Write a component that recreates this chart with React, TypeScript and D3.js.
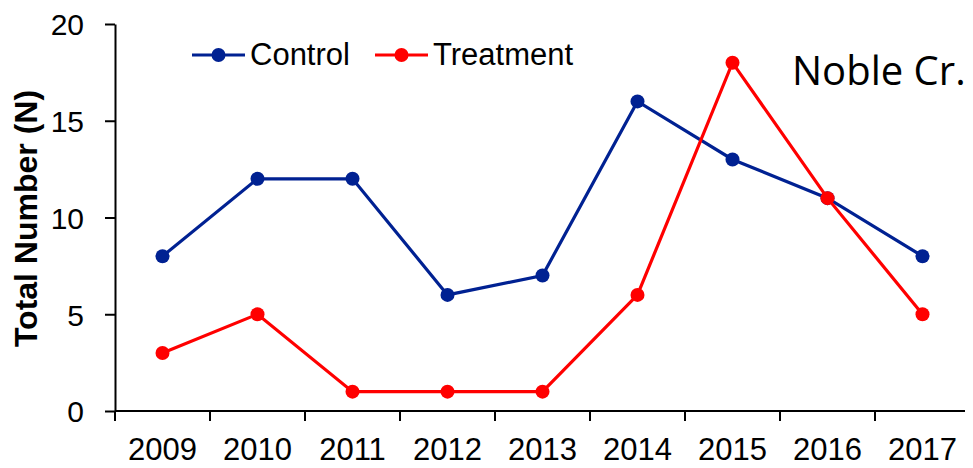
import React, { useRef, useEffect } from 'react';
import * as d3 from 'd3';

const years = ['2009', '2010', '2011', '2012', '2013', '2014', '2015', '2016', '2017'];
const controlValues = [8, 12, 12, 6, 7, 16, 13, 11, 8];
const treatmentValues = [3, 5, 1, 1, 1, 6, 18, 11, 5];
const yTicks = [0, 5, 10, 15, 20];
const seriesNames = ['Control', 'Treatment'];
const siteLabel = 'Noble Cr.';
const yTitle = 'Total Number (N)';

const Chart = () => {
  const svgRef = useRef<SVGSVGElement>(null);

  useEffect(() => {
    const width = 973;
    const height = 468;
    const left = 115, right = 970, top = 24, bottom = 411;
    const font = '"Liberation Sans", Arial, sans-serif';

    const svg = d3.select(svgRef.current)
      .attr('width', width)
      .attr('height', height);
    svg.selectAll('*').remove();

    const x = d3.scaleBand().domain(years).range([left, right]);
    const y = d3.scaleLinear().domain([0, 20]).range([bottom, top]);
    const cx = (d: string) => (x(d) as number) + x.bandwidth() / 2;

    // y axis
    const yAxis = svg.append('g')
      .attr('transform', `translate(${left},0)`)
      .call(d3.axisLeft(y).tickValues(yTicks).tickSize(10).tickPadding(21).tickSizeOuter(0));
    yAxis.select('.domain').attr('stroke', '#000').attr('stroke-width', 2);
    yAxis.selectAll('.tick line').attr('stroke', '#000').attr('stroke-width', 2);
    yAxis.selectAll('.tick text')
      .attr('font-family', font).attr('font-size', 30).attr('fill', '#000').attr('dy', '0.36em');

    // x axis with ticks between categories
    const xAxisG = svg.append('g').attr('transform', `translate(0,${bottom})`);
    xAxisG.append('line')
      .attr('x1', left).attr('x2', right)
      .attr('stroke', '#000').attr('stroke-width', 2);
    const bounds = years.map((d) => x(d) as number).concat([right]);
    xAxisG.selectAll('line.tk')
      .data(bounds)
      .enter().append('line')
      .attr('class', 'tk')
      .attr('x1', (d) => d).attr('x2', (d) => d)
      .attr('y1', 0).attr('y2', 10)
      .attr('stroke', '#000').attr('stroke-width', 2);
    xAxisG.selectAll('text')
      .data(years)
      .enter().append('text')
      .attr('x', cx)
      .attr('y', 49)
      .attr('text-anchor', 'middle')
      .attr('font-family', font).attr('font-size', 31)
      .text((d) => d);

    // y title
    svg.append('text')
      .attr('transform', `translate(37,${(top + bottom) / 2 + 1}) rotate(-90)`)
      .attr('text-anchor', 'middle')
      .attr('font-family', font).attr('font-size', 32).attr('font-weight', 'bold')
      .text(yTitle);

    const series = [
      { name: seriesNames[0], values: controlValues, color: '#002192' },
      { name: seriesNames[1], values: treatmentValues, color: '#ff0000' },
    ];

    const line = d3.line<number>()
      .x((d, i) => cx(years[i]))
      .y((d) => y(d));

    series.forEach((s) => {
      svg.append('path')
        .datum(s.values)
        .attr('fill', 'none')
        .attr('stroke', s.color)
        .attr('stroke-width', 3.2)
        .attr('d', line);
      svg.append('g').selectAll('circle')
        .data(s.values)
        .enter().append('circle')
        .attr('cx', (d, i) => cx(years[i]))
        .attr('cy', (d) => y(d))
        .attr('r', 7)
        .attr('fill', s.color);
    });

    // legend
    const legendX = [192, 375];
    series.forEach((s, i) => {
      const g = svg.append('g').attr('transform', `translate(${legendX[i]},55)`);
      g.append('line')
        .attr('x1', 0).attr('x2', 53)
        .attr('stroke', s.color).attr('stroke-width', 3.2);
      g.append('circle').attr('cx', 26.5).attr('r', 7).attr('fill', s.color);
      g.append('text')
        .attr('x', 58).attr('y', 10)
        .attr('font-family', font).attr('font-size', 31)
        .text(s.name);
    });

    // site label
    svg.append('text')
      .attr('x', 792).attr('y', 85)
      .attr('font-family', '"Open Sans", "Noto Sans", sans-serif')
      .attr('font-size', 40)
      .text(siteLabel);

    return () => {
      d3.select(svgRef.current).selectAll('*').remove();
    };
  }, []);

  return <svg ref={svgRef} style={{ display: 'block' }}></svg>;
};

export default function App() {
  return (
    <div style={{ margin: -8 }}>
      <Chart />
    </div>
  );
}
